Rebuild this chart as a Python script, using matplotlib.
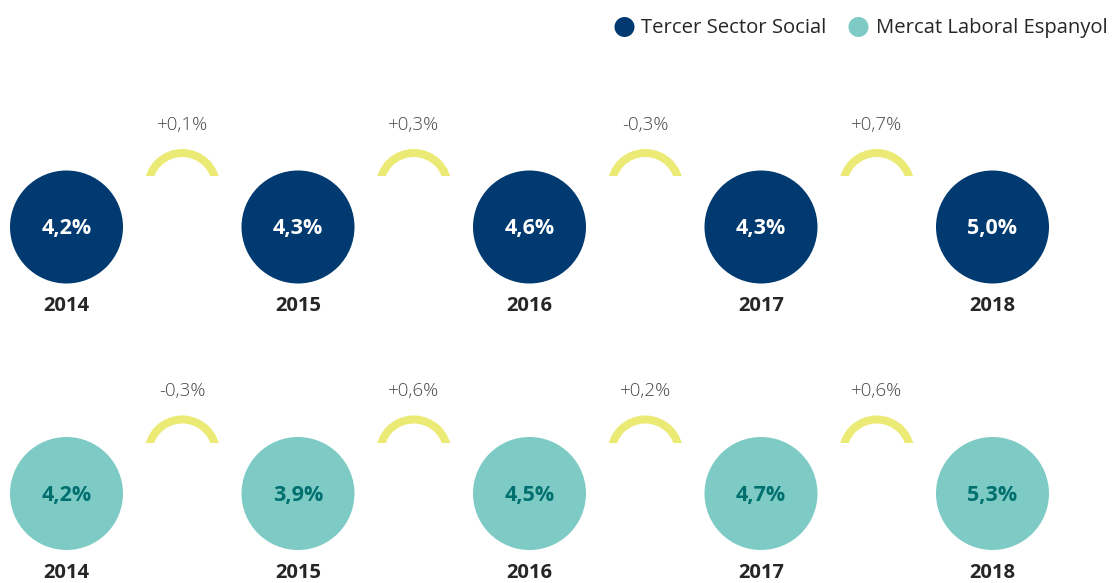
import matplotlib
matplotlib.use("Agg")
import matplotlib.pyplot as plt
from matplotlib.patches import Circle, Wedge, Rectangle

plt.rcParams['font.family'] = ['Open Sans', 'DejaVu Sans']

# Data
years = ["2014", "2015", "2016", "2017", "2018"]
tercer_sector = [4.2, 4.3, 4.6, 4.3, 5.0]
mercat_laboral = [4.2, 3.9, 4.5, 4.7, 5.3]
tercer_changes = [0.1, 0.3, -0.3, 0.7]
mercat_changes = [-0.3, 0.6, 0.2, 0.6]
series_names = ["Tercer Sector Social", "Mercat Laboral Espanyol"]

NAVY = "#003a70"
TEAL = "#7ecbc5"
TEAL_TEXT = "#00706f"
YELLOW = "#eaea74"
YEAR_COLOR = "#262626"
CHANGE_COLOR = "#484848"


def pct(v, signed=False):
    s = f"{v:+.1f}" if signed else f"{v:.1f}"
    return s.replace(".", ",") + "%"


W, H = 1113, 583
fig = plt.figure(figsize=(W / 100, H / 100), dpi=100)
ax = fig.add_axes([0, 0, 1, 1])
ax.set_xlim(0, W)
ax.set_ylim(H, 0)
ax.set_aspect("equal")
ax.axis("off")

x0, dx = 66.5, 231.5
radius = 56.5
rows = [
    dict(values=tercer_sector, changes=tercer_changes, face=NAVY, txt="white", cy=227),
    dict(values=mercat_laboral, changes=mercat_changes, face=TEAL, txt=TEAL_TEXT, cy=493.5),
]

for row in rows:
    cy = row["cy"]
    for i, (yr, v) in enumerate(zip(years, row["values"])):
        cx = x0 + i * dx
        ax.add_patch(Circle((cx, cy), radius, facecolor=row["face"], edgecolor="none"))
        ax.text(cx, cy + 1.5, pct(v), color=row["txt"], fontsize=15.5, fontweight="bold",
                ha="center", va="center")
        ax.text(cx, cy + 79, yr, color=YEAR_COLOR, fontsize=14.5, fontweight="bold",
                ha="center", va="center")
    for i, ch in enumerate(row["changes"]):
        ax_c = x0 + (i + 0.5) * dx
        arc_cy = cy - 40
        # y axis is inverted, so the upper half of the ring spans 180..360 degrees
        arc = Wedge((ax_c, arc_cy), 38, 180, 360, width=8, facecolor=YELLOW, edgecolor="none")
        ax.add_patch(arc)
        clip = Rectangle((ax_c - 50, cy - 100), 100, 49, transform=ax.transData)
        arc.set_clip_path(clip)
        ax.text(ax_c, cy - 102.5, pct(ch, signed=True), color=CHANGE_COLOR, fontsize=13.5,
                fontweight="light", ha="center", va="center")

# Legend
leg_y = 27
ax.add_patch(Circle((624.5, leg_y), 10, facecolor=NAVY, edgecolor="none"))
ax.text(641, leg_y + 1, series_names[0], color=YEAR_COLOR, fontsize=14.6, ha="left", va="center")
ax.add_patch(Circle((858.5, leg_y), 10, facecolor=TEAL, edgecolor="none"))
ax.text(876, leg_y + 1, series_names[1], color=YEAR_COLOR, fontsize=14.6, ha="left", va="center")

fig.savefig("out.png", dpi=100, facecolor="white")
